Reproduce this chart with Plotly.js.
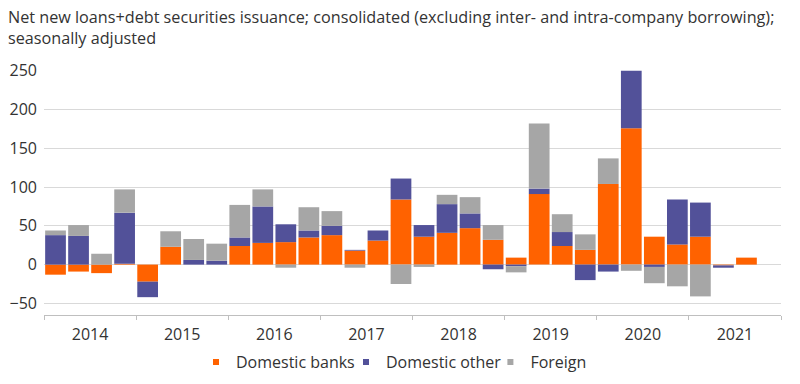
<!DOCTYPE html>
<html>
<head>
<meta charset="utf-8">
<script src="https://cdn.plot.ly/plotly-3.0.1.min.js"></script>
<style>html,body{margin:0;padding:0;background:#fff;}#chart{width:800px;height:384px;}</style>
</head>
<body>
<div id="chart"></div>
<script>
const quarters = ['2014Q1','2014Q2','2014Q3','2014Q4','2015Q1','2015Q2','2015Q3','2015Q4',
  '2016Q1','2016Q2','2016Q3','2016Q4','2017Q1','2017Q2','2017Q3','2017Q4',
  '2018Q1','2018Q2','2018Q3','2018Q4','2019Q1','2019Q2','2019Q3','2019Q4',
  '2020Q1','2020Q2','2020Q3','2020Q4','2021Q1','2021Q2','2021Q3'];
const years = ['2014','2015','2016','2017','2018','2019','2020','2021'];
const seriesNames = ['Domestic banks','Domestic other','Foreign'];
const domesticBanks = [-13,-9,-11,1, -22,23,0,0, 24,28,29,35, 38,18,31,84, 36,41,47,32, 9,91,24,19, 104,176,36,26, 36,-1,9];
const domesticOther = [38,37,0,66, -20,0,6,5, 11,47,23,9, 12,1,13,27, 15,37,19,-6, -2,7,18,-20, -9,74,-3,58, 44,-3,0];
const foreign = [6,14,14,30, 0,20,27,22, 42,22,-4,30, 19,-4,0,-25, -3,12,21,19, -8,84,23,20, 33,-8,-21,-28, -41,0,0];

// quarter index position on a numeric axis (each year = 4 quarters)
const xpos = quarters.map(q => (parseInt(q.slice(0,4)) - parseInt(years[0])) * 4 + (parseInt(q.slice(5)) - 1));
const nSlots = years.length * 4;
const boundaries = years.map((y, i) => i * 4 - 0.5).concat([nSlots - 0.5]);
const centers = years.map((y, i) => i * 4 + 1.5);

const FONT = 'Open Sans, sans-serif';
const COLORS = ['#FF6200','#525199','#A6A6A6'];
const values = [domesticBanks, domesticOther, foreign];
const legendIds = ['legend','legend2','legend3'];
const traces = [];
values.forEach((v, i) => {
  traces.push({type:'bar', name:seriesNames[i], x:xpos, y:v, marker:{color:COLORS[i]}, showlegend:false});
});
values.forEach((v, i) => {
  traces.push({type:'scatter', mode:'markers', name:seriesNames[i], x:[null], y:[null],
    marker:{symbol:'square', size:6, color:COLORS[i]}, legend:legendIds[i], showlegend:true, hoverinfo:'skip'});
});
traces.push({type:'scatter', x:[centers[0]], y:[null], xaxis:'x2', showlegend:false, hoverinfo:'skip'});

const legendBase = {orientation:'h', xref:'container', yref:'container', y:0.057, yanchor:'middle', xanchor:'left',
  font:{family:FONT, size:16, color:'#333'}, itemwidth:30, bgcolor:'rgba(0,0,0,0)'};

const layout = {
  width:800, height:384,
  margin:{l:44, r:19, t:70, b:69},
  paper_bgcolor:'#fff', plot_bgcolor:'#fff',
  barmode:'relative', bargap:0.1,
  font:{family:FONT, color:'#333', size:16},
  title:{text:'Net new loans+debt securities issuance; consolidated (excluding inter- and intra-company borrowing);<br>seasonally adjusted',
    x:0.01, xref:'container', xanchor:'left', y:0.94, yref:'container', yanchor:'top',
    font:{family:FONT, size:16.2, color:'#333'}},
  xaxis:{range:[-0.5, nSlots - 0.5], tickmode:'array', tickvals:boundaries, showticklabels:false,
    ticks:'outside', ticklen:4, tickcolor:'#bfbfbf', showline:true, linecolor:'#bfbfbf', linewidth:1,
    showgrid:false, zeroline:false, fixedrange:true},
  xaxis2:{overlaying:'x', anchor:'y', side:'bottom', range:[-0.5, nSlots - 0.5], tickmode:'array',
    tickvals:centers, ticktext:years, ticks:'', showline:false, showgrid:false, zeroline:false,
    ticklabelstandoff:8, tickfont:{family:FONT, size:16, color:'#333'}},
  yaxis:{range:[-65, 251], tickmode:'array', tickvals:[-50,0,50,100,150,200,250],
    showgrid:true, gridcolor:'#d9d9d9', gridwidth:1, zeroline:false, showline:false,
    tickfont:{family:FONT, size:16, color:'#333'}, ticks:'', ticklabelstandoff:6},
  legend:Object.assign({}, legendBase, {x:0.245}),
  legend2:Object.assign({}, legendBase, {x:0.4325}),
  legend3:Object.assign({}, legendBase, {x:0.613}),
  showlegend:true
};

Plotly.newPlot('chart', traces, layout, {displayModeBar:false, staticPlot:true});
</script>
</body>
</html>
